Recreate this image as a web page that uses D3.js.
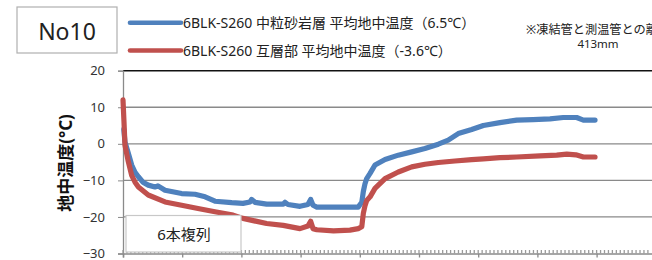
<!DOCTYPE html>
<html><head><meta charset="utf-8">
<script src="https://cdn.jsdelivr.net/npm/d3@7"></script>
<style>body{margin:0;background:#fff}svg{display:block}</style>
</head><body>
<script>
const blueDays = [0.4,1.0,2.7,4.4,6.1,7.8,10.1,12.8,16.2,17.7,21.3,29.7,36.5,41.6,46.6,55.1,60.8,64.4,65.2,66.9,72.8,81.2,82.1,83.6,89.7,93.7,95.1,96.3,98.2,106.4,115,119.2,121,121.8,122.6,123.5,125.2,127.7,132.8,139.5,146.3,153,159.8,164.8,169.9,176.7,182.6,191,199.5,207.8,216.4,223.1,229.9,233.3,239.2];
const blueVals = [4,0.5,-2.6,-5.8,-7.8,-9,-10.5,-11.3,-11.8,-11.5,-12.7,-13.6,-13.8,-14.5,-15.7,-16.1,-16.3,-15.9,-15.2,-16,-16.5,-16.5,-16.0,-16.6,-17.1,-16.6,-15.2,-16.8,-17.3,-17.3,-17.3,-17.3,-16,-13,-11,-9.5,-8.1,-5.8,-4.3,-3.1,-2.2,-1.3,-0.1,1.0,2.8,3.9,5.0,5.8,6.5,6.6,6.8,7.2,7.2,6.5,6.5];
const redDays = [0,0.5,1.0,2.7,4.4,6.1,7.8,12.8,21.3,29.7,38,46.6,55.8,60.8,72.8,81.2,89.7,93.7,95.1,96.3,98.2,106.7,115,119.2,121,121.8,122.6,123.5,125.2,127.7,132.8,139.5,146.3,153,159.8,168.2,176.7,182.6,191,199.5,211.3,219.8,224.9,229.5,233.3,239.2];
const redVals = [12,6,-0.4,-4.9,-8.6,-10.5,-11.8,-14,-15.9,-16.8,-17.7,-18.6,-19.5,-20.4,-21.8,-22.3,-23.2,-22.5,-21.2,-23.2,-23.5,-23.8,-23.6,-23.2,-22.7,-19,-17,-15.5,-14.5,-12.2,-9.5,-7.7,-6.3,-5.6,-5.1,-4.7,-4.3,-4.1,-3.8,-3.6,-3.3,-3.1,-2.8,-3.0,-3.6,-3.6];
const yTicks = [20,10,0,-10,-20,-30];
const seriesNames = ["6BLK-S260 中粒砂岩層 平均地中温度（6.5℃）","6BLK-S260 互層部 平均地中温度（-3.6℃）"];
const seriesColors = ["#4F81BD","#C0504D"];
const yTitle = "地中温度(°C)";
const boxTitle = "No10";
const noteLines = ["※凍結管と測温管との離","413mm"];
const panelLabel = "6本複列";

const W=652,H=260;
const svg=d3.select("body").append("svg").attr("width",W).attr("height",H);
const font='"Noto Sans","Noto Sans CJK JP",sans-serif';
const x=d3.scaleLinear().domain([0,270]).range([123,123+59.2*9]);
const y=d3.scaleLinear().domain([-30,20]).range([253.5,70.7]);

// gridlines
svg.append("g").selectAll("line").data(yTicks.filter(d=>d>-30&&d<20)).join("line")
  .attr("x1",123).attr("x2",W).attr("y1",d=>y(d)).attr("y2",d=>y(d))
  .attr("stroke","#8a8a8a").attr("stroke-width",1.3);
svg.append("line").attr("x1",123).attr("x2",W).attr("y1",y(20)).attr("y2",y(20))
  .attr("stroke","#111").attr("stroke-width",1.4);

// y axis
const ya=svg.append("g").attr("transform","translate(123,0)")
  .call(d3.axisLeft(y).tickValues(yTicks).tickSize(5).tickPadding(13).tickFormat(d3.format("d")));
ya.select(".domain").attr("stroke","#8a8a8a").attr("stroke-width",1.3);
ya.selectAll(".tick line").attr("stroke","#8a8a8a");
ya.selectAll("text").attr("font-family",font).attr("font-size",13).attr("fill","#333");

// x axis
const xa=svg.append("g").attr("transform","translate(0,253.5)")
  .call(d3.axisBottom(x).tickValues(d3.range(0,271,30)).tickSize(4).tickFormat(""));
xa.select(".domain").attr("stroke","#8a8a8a").attr("stroke-width",1.5);
xa.selectAll(".tick line").attr("stroke","#8a8a8a").attr("stroke-width",1.3);
svg.append("g").selectAll("line").data(d3.range(0,268,2)).join("line")
  .attr("x1",d=>x(d)).attr("x2",d=>x(d)).attr("y1",250).attr("y2",253.5)
  .attr("stroke","#9a9a9a").attr("stroke-width",1.3);

// lines
const line=d3.line().x(d=>x(d[0])).y(d=>y(d[1]));
const series=[d3.zip(blueDays,blueVals),d3.zip(redDays,redVals)];
svg.append("g").selectAll("path").data(series).join("path")
  .attr("d",line).attr("fill","none")
  .attr("stroke",(d,i)=>seriesColors[i]).attr("stroke-width",5.2)
  .attr("stroke-linejoin","round").attr("stroke-linecap","round");

// panel label box
svg.append("rect").attr("x",126).attr("y",215.5).attr("width",115).attr("height",36.5)
  .attr("fill","#fff").attr("stroke","#c8c8c8").attr("stroke-width",1.2);
svg.append("text").attr("x",184).attr("y",234).attr("text-anchor","middle").attr("dominant-baseline","central")
  .attr("font-family",font).attr("font-size",15).attr("fill","#222").text(panelLabel);

// y title
svg.append("text").attr("transform","translate(65,163) rotate(-90)").attr("text-anchor","middle")
  .attr("dominant-baseline","central").attr("font-family",font).attr("font-size",17)
  .attr("font-weight","bold").attr("fill","#111").text(yTitle);

// No10 box
svg.append("rect").attr("x",17).attr("y",7).attr("width",100).attr("height",46)
  .attr("fill","#fff").attr("stroke","#b0b0b0").attr("stroke-width",1.2);
svg.append("text").attr("x",67).attr("y",31).attr("text-anchor","middle").attr("dominant-baseline","central")
  .attr("font-family",font).attr("font-size",23).attr("fill","#222").text(boxTitle);

// legend
const lg=svg.append("g");
seriesNames.forEach((n,i)=>{
  const yy=[22.7,50.5][i];
  lg.append("line").attr("x1",130).attr("x2",181).attr("y1",yy).attr("y2",yy)
    .attr("stroke",seriesColors[i]).attr("stroke-width",4.6).attr("stroke-linecap","round");
  lg.append("text").attr("x",183).attr("y",yy).attr("dominant-baseline","central")
    .attr("font-family",font).attr("font-size",14).attr("fill","#222").text(n);
});

// note
svg.append("text").attr("x",526).attr("y",29).attr("dominant-baseline","central")
  .attr("font-family",font).attr("font-size",12.2).attr("fill","#222").text(noteLines[0]);
svg.append("text").attr("x",598).attr("y",43.5).attr("text-anchor","middle").attr("dominant-baseline","central")
  .attr("font-family",font).attr("font-size",11.5).attr("fill","#222").text(noteLines[1]);
</script>
</body></html>
